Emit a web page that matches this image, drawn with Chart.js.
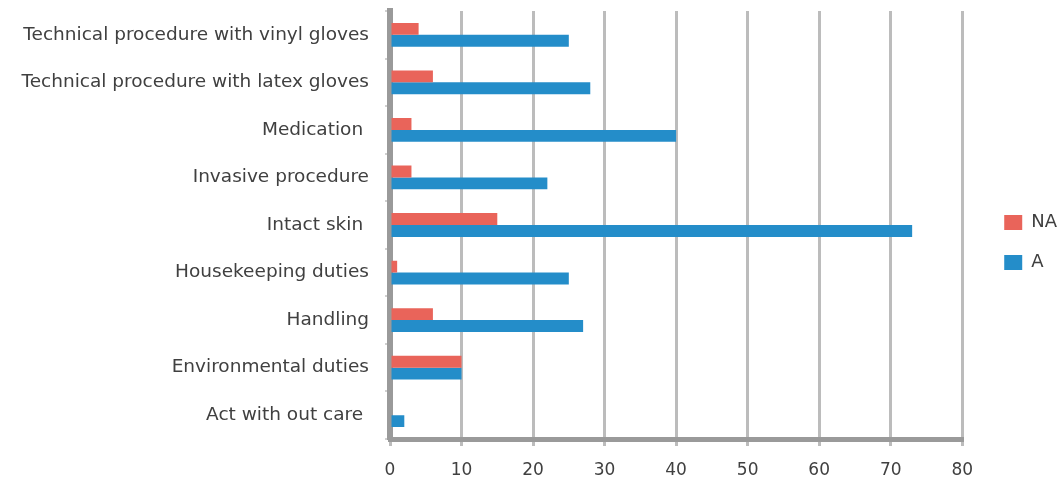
<!DOCTYPE html>
<html>
<head>
<meta charset="utf-8">
<script src="https://cdn.jsdelivr.net/npm/chart.js@4"></script>
<style>
  html, body { margin: 0; padding: 0; background: #fff; }
  #wrap { width: 1059px; height: 482px; }
</style>
</head>
<body>
<div id="wrap"><canvas id="glovesChart"></canvas></div>
<script>
const categories = [
    'Technical procedure with vinyl gloves',
    'Technical procedure with latex gloves',
    'Medication ',
    'Invasive procedure',
    'Intact skin ',
    'Housekeeping duties',
    'Handling',
    'Environmental duties',
    'Act with out care '
];
const naValues = [4, 6, 3, 3, 15, 1, 6, 10, 0];
const aValues = [25, 28, 40, 22, 73, 25, 27, 10, 2];
const xTicks = [0, 10, 20, 30, 40, 50, 60, 70, 80];

// nudge the legend block after layout so it sits further right
const legendOffset = {
    id: 'legendOffset',
    afterLayout(chart, args, opts) {
        const legend = chart.legend;
        if (!legend) return;
        legend.left += opts.x;
        legend.right += opts.x;
        legend.top += opts.y;
        legend.bottom += opts.y;
    }
};

const ctx = document.getElementById('glovesChart').getContext('2d');

new Chart(ctx, {
    type: 'bar',
    data: {
        labels: categories,
        datasets: [
            {
                label: 'NA',
                data: naValues,
                backgroundColor: '#e9645a',
                categoryPercentage: 0.5,
                barPercentage: 1.0
            },
            {
                label: 'A',
                data: aValues,
                backgroundColor: '#248dc9',
                categoryPercentage: 0.5,
                barPercentage: 1.0
            }
        ]
    },
    plugins: [legendOffset],
    options: {
        indexAxis: 'y',
        responsive: true,
        maintainAspectRatio: false,
        animation: false,
        layout: {
            padding: { top: 11, right: 12, bottom: 0, left: 0 }
        },
        plugins: {
            legend: {
                position: 'right',
                labels: {
                    boxWidth: 18,
                    boxHeight: 15,
                    padding: 22,
                    color: '#404040',
                    font: { family: 'DejaVu Sans', size: 18 }
                }
            },
            legendOffset: { x: 20, y: -4 },
            tooltip: { enabled: false }
        },
        scales: {
            x: {
                min: xTicks[0],
                max: xTicks[xTicks.length - 1],
                afterBuildTicks: (scale) => {
                    scale.ticks = xTicks.map(v => ({ value: v }));
                },
                afterFit: (scale) => {
                    scale.height = 43;
                },
                grid: {
                    color: '#bcbcbc',
                    lineWidth: 3,
                    tickLength: 7
                },
                border: { color: '#9a9a9a', width: 5 },
                ticks: {
                    color: '#404040',
                    padding: 14,
                    font: { family: 'DejaVu Sans', size: 17 }
                }
            },
            y: {
                afterFit: (scale) => {
                    scale.width = 390;
                    scale.paddingTop = 0;
                    scale.paddingBottom = 0;
                },
                grid: {
                    drawOnChartArea: false,
                    color: '#d0d0d0',
                    lineWidth: 2,
                    tickLength: 5
                },
                border: { color: '#9a9a9a', width: 6 },
                ticks: {
                    color: '#404040',
                    padding: 16,
                    font: { family: 'DejaVu Sans', size: 18.5 }
                }
            }
        }
    }
});
</script>
</body>
</html>
